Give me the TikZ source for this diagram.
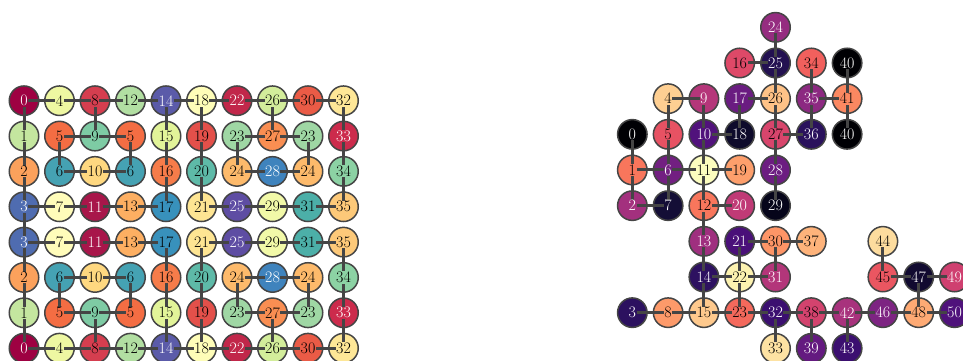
\documentclass[tikz,border=0pt]{standalone}
\usepackage{tikz}

\begin{document}
\begin{tikzpicture}[x=1pt,y=1pt,yscale=-1,xscale=1,
  vtx/.style={circle, draw=edgegray, line width=1.5pt, minimum size=29.5pt, inner sep=0pt},
  lbl/.style={inner sep=0.6pt, font=\fontsize{16}{18}\selectfont},
  link/.style={edgegray, line width=3pt}]

\definecolor{edgegray}{rgb}{0.27, 0.27, 0.27}

\useasboundingbox (0,0) rectangle (963,360);

% left grid: col/row/label/fill/text (top half, the bottom half is its mirror)
\def\leftnodes{0/0/0/9E0142/white, 1/0/4/EEF7A2/black, 2/0/8/D53E4F/black, 3/0/12/B2DFA2/black, 4/0/14/5B5BA9/white,
  5/0/18/FEFDB8/black, 6/0/22/C1274A/white, 7/0/26/D3ED9B/black, 8/0/30/EA5B46/black, 9/0/32/FEE797/black,
  0/1/1/C4E69F/black, 1/1/5/F46D43/black, 2/1/9/7ECBA4/black, 3/1/5/F46D43/black, 4/1/15/E2F499/black,
  5/1/19/E3504A/black, 6/1/23/9FD7A4/black, 7/1/27/F98E52/black, 8/1/23/9FD7A4/black, 9/1/33/CC2B4C/white,
  0/2/2/FBA15C/black, 1/2/6/45A2B3/black, 2/2/10/FED880/black, 3/2/6/45A2B3/black, 4/2/16/F67C4A/black,
  5/2/20/5EBAA8/black, 6/2/24/FDBA6B/black, 7/2/28/3F83BD/white, 8/2/24/FDBA6B/black, 9/2/34/8CD2A4/black,
  0/3/3/4F6CB0/white, 1/3/7/FFFCBA/black, 2/3/11/A8164A/white, 3/3/13/FDAF62/black, 4/3/17/3891BC/black,
  5/3/21/FEE593/black, 6/3/25/5E4DA3/white, 7/3/29/F2F9A8/black, 8/3/31/4CAFA8/black, 9/3/35/FDC979/black}

% right graph: col/row/label/fill/text
\def\rightnodes{4/0/24/952C80/white,
  3/1/16/DE4968/black, 4/1/25/231151/white, 5/1/34/F1605D/black, 6/1/40/000004/white,
  1/2/4/FECF92/black, 2/2/9/B5367A/white, 3/2/17/6A1C81/white, 4/2/26/FEC287/black, 5/2/35/8C2981/white, 6/2/41/FB8861/black,
  0/3/0/000004/white, 1/3/5/E75263/black, 2/3/10/51127C/white, 3/3/18/0E0B2B/white, 4/3/27/D8456C/black, 5/3/36/2A115C/white, 6/3/40/000004/white,
  0/4/1/F8765C/black, 1/4/6/721F81/white, 2/4/11/FCFDBF/black, 3/4/19/FD9F6C/black, 4/4/28/6C1D81/white,
  0/5/2/A3307E/white, 1/5/7/140E36/white, 2/5/12/F8765C/black, 3/5/20/C03A76/white, 4/5/29/06051A/white,
  2/6/13/9F2F7F/white, 3/6/21/4A1079/white, 4/6/30/FD9567/black, 5/6/37/FEB37B/black, 7/6/44/FDDC9E/black,
  2/7/14/2D1160/white, 3/7/22/FCF2B0/black, 4/7/31/B3367A/white, 7/7/45/EA5661/black, 8/7/47/110A30/white, 9/7/49/CF4070/white,
  0/8/3/2C115F/white, 1/8/8/FD9A6A/black, 2/8/15/FEC98D/black, 3/8/23/F4695C/black, 4/8/32/3B0F70/white,
  5/8/38/D3436E/black, 6/8/42/A8327D/white, 7/8/46/7D2482/white, 8/8/48/FEAA74/black, 9/8/50/4F127B/white,
  4/9/33/FDE2A3/black, 5/9/39/641A80/white, 6/9/43/3B0F70/white}

% discs
\foreach \cx/\ry/\lab/\hex/\txt in \leftnodes {
  \definecolor{nodefill}{HTML}{\hex}
  \pgfmathtruncatemacro{\rr}{7-\ry}
  \node[vtx, fill=nodefill] (L\cx-\ry) at (24+35.5*\cx, 100.7+35.35*\ry) {};
  \node[vtx, fill=nodefill] (L\cx-\rr) at (24+35.5*\cx, 100.7+35.35*\rr) {};
}
\foreach \cx/\ry/\lab/\hex/\txt in \rightnodes {
  \definecolor{nodefill}{HTML}{\hex}
  \node[vtx, fill=nodefill] (R\cx-\ry) at (632.3+35.8*\cx, 27.3+35.67*\ry) {};
}

% left edges, each drawn with its mirror
\foreach \a/\b/\c/\d in {0/0/1/0, 1/0/2/0, 2/0/3/0, 3/0/4/0, 4/0/5/0, 5/0/6/0, 6/0/7/0, 7/0/8/0, 8/0/9/0,
    0/0/0/1, 0/1/0/2, 0/2/0/3, 2/0/2/1, 4/0/4/1, 4/1/4/2, 4/2/4/3, 5/0/5/1, 5/1/5/2, 5/2/5/3,
    7/0/7/1, 9/0/9/1, 9/1/9/2, 9/2/9/3,
    1/1/2/1, 2/1/3/1, 6/1/7/1, 7/1/8/1, 1/1/1/2, 3/1/3/2, 6/1/6/2, 8/1/8/2,
    1/2/2/2, 2/2/3/2, 6/2/7/2, 7/2/8/2,
    0/3/1/3, 1/3/2/3, 2/3/3/3, 3/3/4/3, 5/3/6/3, 6/3/7/3, 7/3/8/3, 8/3/9/3} {
  \pgfmathtruncatemacro{\bb}{7-\b}
  \pgfmathtruncatemacro{\dd}{7-\d}
  \draw[link] (L\a-\b.center) -- (L\c-\d.center);
  \draw[link] (L\a-\bb.center) -- (L\c-\dd.center);
}
\draw[link] (L0-3.center) -- (L0-4.center);

% right edges
\foreach \a/\b/\c/\d in {0/3/0/4, 0/4/0/5, 0/4/1/4, 0/5/1/5, 1/2/2/2, 1/2/1/3, 1/3/1/4, 1/4/1/5, 1/4/2/4,
    2/2/2/3, 2/3/3/3, 2/3/2/4, 3/2/4/2, 3/2/3/3, 3/1/4/1, 4/0/4/1, 4/1/4/2, 4/2/4/3, 4/3/5/3, 4/3/4/4, 4/4/4/5,
    2/4/3/4, 2/4/2/5, 2/5/3/5, 2/5/2/6, 2/6/2/7, 2/7/3/7, 2/7/2/8, 0/8/1/8, 1/8/2/8, 2/8/3/8,
    3/8/3/7, 3/8/4/8, 3/7/3/6, 3/7/4/7, 3/6/4/6, 4/6/5/6, 4/6/4/7, 4/8/4/9, 4/8/5/8, 5/8/5/9,
    5/8/6/8, 6/8/6/9, 6/8/7/8, 7/8/8/8, 8/8/8/7, 8/8/9/8, 8/7/7/7, 8/7/9/7, 7/7/7/6,
    5/1/5/2, 5/2/5/3, 5/2/6/2, 6/1/6/2, 6/2/6/3} {
  \draw[link] (R\a-\b.center) -- (R\c-\d.center);
}

% labels on top, boxed in the disc colour
\foreach \cx/\ry/\lab/\hex/\txt in \leftnodes {
  \definecolor{nodefill}{HTML}{\hex}
  \pgfmathtruncatemacro{\rr}{7-\ry}
  \node[lbl, fill=nodefill, text=\txt] (tL\cx-\ry) at (L\cx-\ry) {\lab};
  \node[lbl, fill=nodefill, text=\txt] (tL\cx-\rr) at (L\cx-\rr) {\lab};
}
\foreach \cx/\ry/\lab/\hex/\txt in \rightnodes {
  \definecolor{nodefill}{HTML}{\hex}
  \node[lbl, fill=nodefill, text=\txt] (tR\cx-\ry) at (R\cx-\ry) {\lab};
}

\end{tikzpicture}
\end{document}
